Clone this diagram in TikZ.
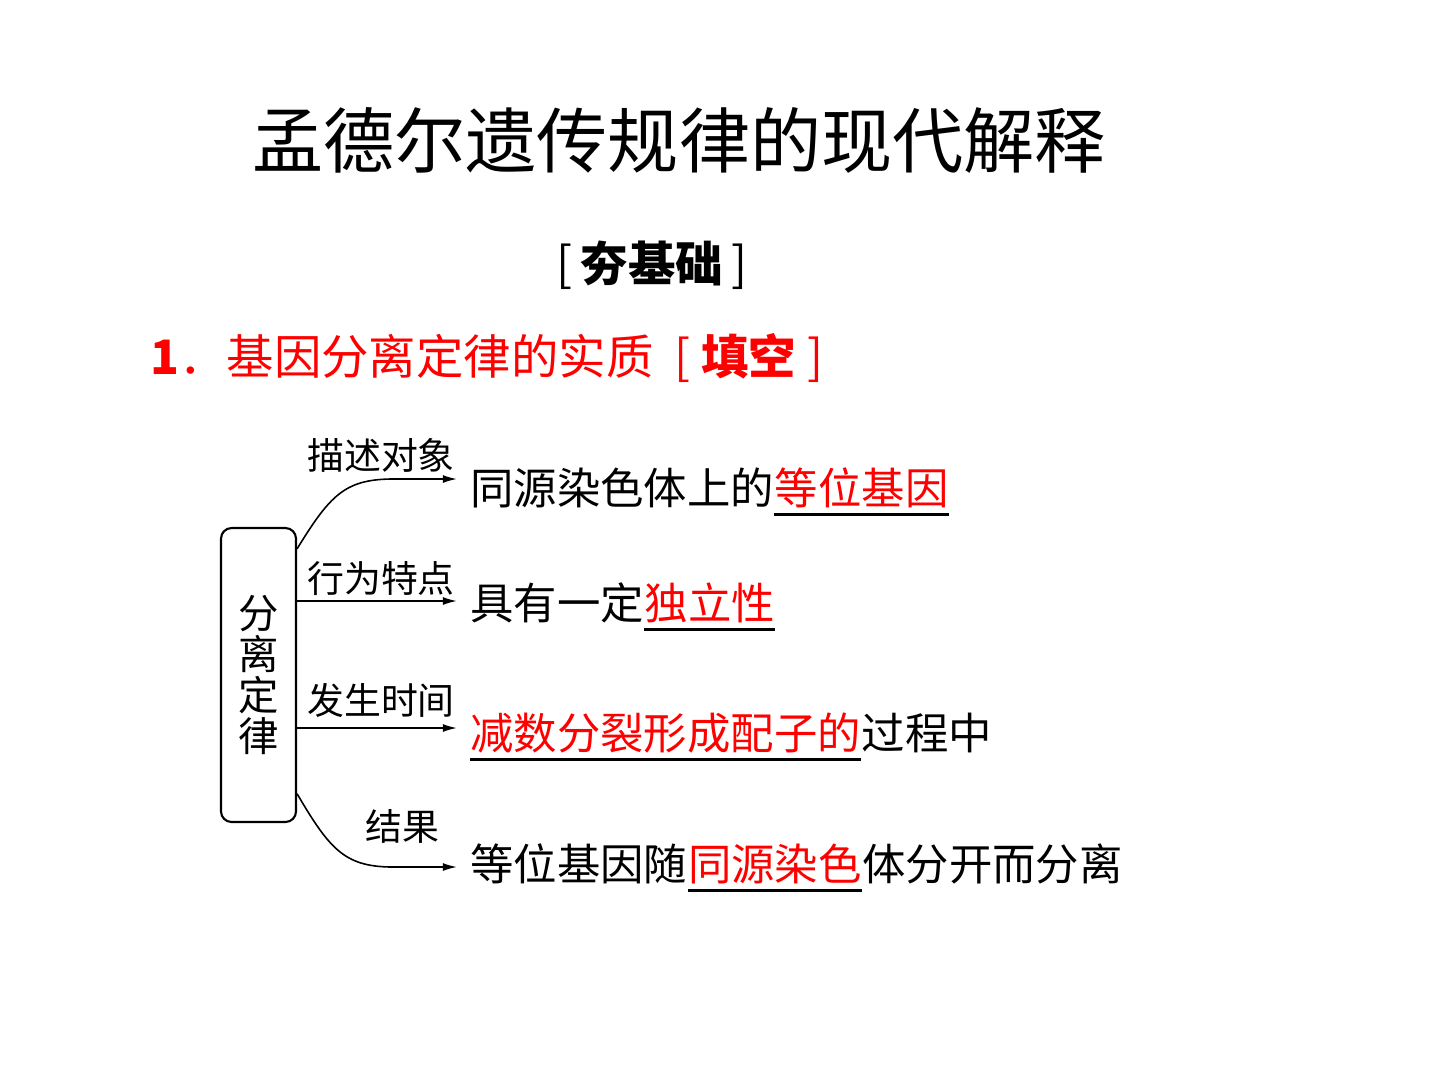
\documentclass[tikz,border=0pt]{standalone}
\usepackage{fontspec}
\setmainfont{Noto Sans CJK SC}
\usetikzlibrary{positioning}
\usetikzlibrary{calc}
\usetikzlibrary{arrows.meta}

\begin{document}
\begin{tikzpicture}[x=0.02cm, y=-0.02cm,
    every node/.style={inner sep=0pt},
    branch/.style={font=\fontsize{21}{25}\selectfont},
    txt/.style={font=\fontsize{24.7}{29}\selectfont, anchor=west},
    hl/.style={txt, text=red},
    arr/.style={-{Latex[length=8pt,width=4.5pt]}, line width=0.9pt},
    uline/.style={line width=1.9pt}]
      % Page frame
      \useasboundingbox (0,0) rectangle (1440,1080);
      % Title and headings
      \node (title) at (679,140) {\fontsize{40.5}{48}\selectfont 孟德尔遗传规律的现代解释};
      \node (sub) at (652,265) {\fontsize{27}{32}\selectfont [\,\textbf{夯基础}\,]};
      \node[anchor=west, text=red] (q1) at (150,358) {\fontsize{27}{32}\selectfont \textbf{1}．基因分离定律的实质 \ [ \textbf{填空} ]};
      % Box on the left
      \node[draw, line width=1.2pt, rounded corners=6pt, minimum width=1.5cm, minimum height=5.88cm,
        align=center, font=\fontsize{23}{23.3}\selectfont] (law) at (258.5,675) {分\\离\\定\\律};
      % Arrow ends
      \coordinate (e1) at (457,479);
      \coordinate (e2) at (457,601);
      \coordinate (e3) at (457,728);
      \coordinate (e4) at (457,867);
      % Texts on the right
      \node[txt] (a1) at (470,488) {同源染色体上的};
      \node[hl, right=0pt of a1] (b1) {等位基因};
      \node[txt] (a2) at (470,603) {具有一定};
      \node[hl, right=0pt of a2] (b2) {独立性};
      \node[hl] (b3) at (470,733) {减数分裂形成配子的};
      \node[txt, right=0pt of b3] (c3) {过程中};
      \node[txt] (a4) at (470,864) {等位基因随};
      \node[hl, right=0pt of a4] (b4) {同源染色};
      \node[txt, right=0pt of b4] (c4) {体分开而分离};
      % Underlines below the red words
      \foreach \i in {1,...,4} {
        \draw[uline] ([yshift=-3.5pt]b\i.south west) -- ([yshift=-3.5pt]b\i.south east);
      }
      % Arrows from the box
      \draw[arr] (law.73) .. controls (330,495) and (345,480) .. (390,479) -- (e1);
      \foreach \i in {2,3} {
        \draw[arr] (law.east |- e\i) -- (e\i);
      }
      \draw[arr] (law.-72) .. controls (330,850) and (345,866) .. (390,867) -- (e4);
      % Labels over the arrows
      \foreach \lab/\x/\y [count=\i] in {描述对象/381/455, 行为特点/381/578, 发生时间/381/700, 结果/402/826} {
        \node[branch] (l\i) at (\x,\y) {\lab};
      }
    \end{tikzpicture}
\end{document}
